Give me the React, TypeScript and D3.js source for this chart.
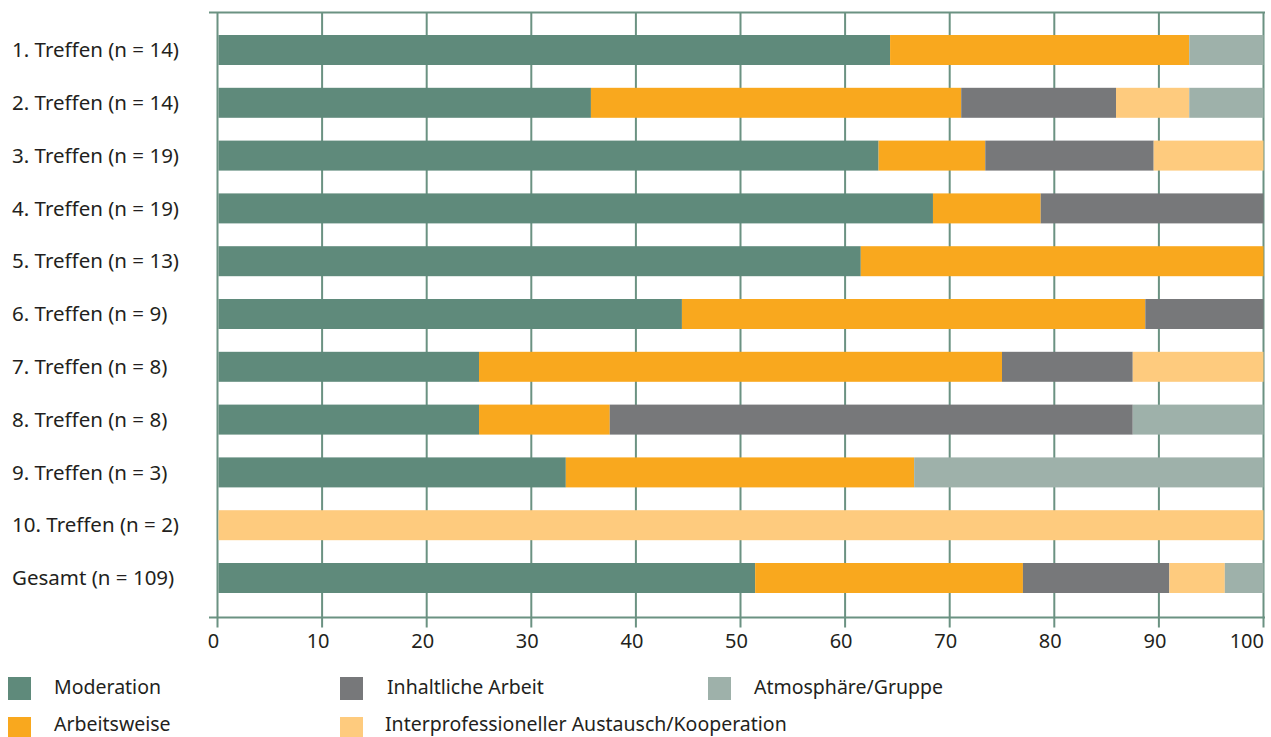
import React from "react";
import * as d3 from "d3";

const categories = [
  "1. Treffen (n = 14)",
  "2. Treffen (n = 14)",
  "3. Treffen (n = 19)",
  "4. Treffen (n = 19)",
  "5. Treffen (n = 13)",
  "6. Treffen (n = 9)",
  "7. Treffen (n = 8)",
  "8. Treffen (n = 8)",
  "9. Treffen (n = 3)",
  "10. Treffen (n = 2)",
  "Gesamt (n = 109)",
];

const seriesNames = [
  "Moderation",
  "Arbeitsweise",
  "Inhaltliche Arbeit",
  "Interprofessioneller Austausch/Kooperation",
  "Atmosphäre/Gruppe",
];

const moderation = [64.3, 35.7, 63.2, 68.4, 61.5, 44.4, 25.0, 25.0, 33.3, 0, 51.4];
const arbeitsweise = [28.6, 35.4, 10.2, 10.3, 38.5, 44.3, 50.0, 12.5, 33.3, 0, 25.6];
const inhaltliche = [0, 14.8, 16.1, 21.3, 0, 11.3, 12.5, 50.0, 0, 0, 14.0];
const interprof = [0, 7.0, 10.5, 0, 0, 0, 12.5, 0, 0, 100, 5.3];
const atmosphaere = [7.1, 7.1, 0, 0, 0, 0, 0, 12.5, 33.4, 0, 3.7];

const xTicks = [0, 10, 20, 30, 40, 50, 60, 70, 80, 90, 100];

const colors = ["#5f8a7b", "#f9a81e", "#77787a", "#fecb7e", "#9eb1aa"];
const gridColor = "#6b9282";
const textColor = "#231f20";
const font = "'Noto Sans', 'Open Sans', sans-serif";

export default function App() {
  const seriesValues = [moderation, arbeitsweise, inhaltliche, interprof, atmosphaere];
  const rows = categories.map((c, i) => {
    const r: any = { cat: c };
    seriesNames.forEach((s, k) => (r[s] = seriesValues[k][i]));
    return r;
  });
  const stacked = d3.stack().keys(seriesNames)(rows);

  const x = d3.scaleLinear().domain([0, 100]).range([217.5, 1263.5]);
  const y = d3
    .scaleBand()
    .domain(categories)
    .range([35, 593])
    .paddingInner(0.432)
    .paddingOuter(0);

  const top = 12.5;
  const bottom = 617.5;

  const legend = [
    { name: "Moderation", color: colors[0], sx: 8, tx: 54, row: 0 },
    { name: "Inhaltliche Arbeit", color: colors[2], sx: 340, tx: 387, row: 0 },
    { name: "Atmosphäre/Gruppe", color: colors[4], sx: 708, tx: 754, row: 0 },
    { name: "Arbeitsweise", color: colors[1], sx: 8, tx: 54, row: 1 },
    { name: "Interprofessioneller Austausch/Kooperation", color: colors[3], sx: 340, tx: 385, row: 1 },
  ];

  return (
    <svg
      width={1271}
      height={737}
      style={{ position: "absolute", left: 0, top: 0, display: "block", background: "#fff" }}
      fontFamily={font}
    >
      {/* grid lines */}
      {xTicks.map((t) => (
        <line
          key={"g" + t}
          x1={x(t)}
          x2={x(t)}
          y1={top}
          y2={bottom + 10}
          stroke={gridColor}
          strokeWidth={2}
        />
      ))}
      <line x1={209} x2={1265} y1={top} y2={top} stroke={gridColor} strokeWidth={2} />
      <line x1={209} x2={1265} y1={bottom} y2={bottom} stroke={gridColor} strokeWidth={2} />

      {/* bars */}
      {stacked.map((s, k) => (
        <g key={s.key} fill={colors[k]}>
          {s.map((d, i) =>
            d[1] - d[0] > 0 ? (
              <rect
                key={i}
                x={x(d[0]) + (d[0] === 0 ? 1 : 0)}
                width={x(d[1]) - x(d[0]) - (d[0] === 0 ? 1 : 0)}
                y={y(categories[i])}
                height={y.bandwidth()}
              />
            ) : null
          )}
        </g>
      ))}

      {/* category labels */}
      {categories.map((c) => (
        <text
          key={c}
          x={12}
          y={(y(c) as number) + y.bandwidth() / 2}
          dy="0.35em"
          fontSize={20.5}
          fill={textColor}
        >
          {c}
        </text>
      ))}

      {/* x tick labels */}
      {xTicks.map((t, i) => {
        const last = i === xTicks.length - 1;
        return (
          <text
            key={"t" + t}
            x={last ? 1264 : x(t) - 4}
            y={648}
            textAnchor={last ? "end" : "middle"}
            fontSize={20}
            fill={textColor}
          >
            {t}
          </text>
        );
      })}

      {/* legend */}
      {legend.map((l) => (
        <g key={l.name}>
          <rect x={l.sx} y={677 + l.row * 40} width={23} height={23} fill={l.color} />
          <text x={l.tx} y={694 + l.row * 37} fontSize={19.5} fill={textColor}>
            {l.name}
          </text>
        </g>
      ))}
    </svg>
  );
}
